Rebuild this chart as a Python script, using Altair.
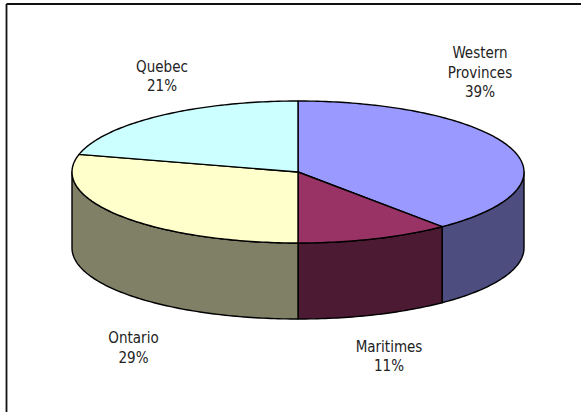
import altair as alt
import numpy as np

# Regional shares, clockwise from twelve o'clock
regions = ["Western Provinces", "Maritimes", "Ontario", "Quebec"]
shares = [39, 11, 29, 21]
label_lines = [["Western", "Provinces"], ["Maritimes"], ["Ontario"], ["Quebec"]]
top_colors = ["#9999FF", "#993366", "#FFFFCC", "#CCFFFF"]
wall_colors = ["#4D4D80", "#4D1A33", "#808066", "#668080"]

# Pie drawing geometry, in pixels
RX, RY, DEPTH = 226, 71, 76
CENTER = [298, 172]
label_anchor = [(480, 53), (389, 346.5), (133.5, 338), (162, 66.5)]


def rim(start, end, drop=0.0):
    """Points along the elliptical rim between two angles (radians clockwise from top)."""
    count = max(2, int(np.degrees(end - start)) + 2)
    return [
        [float(RX * np.sin(t)), float(-RY * np.cos(t) + drop)]
        for t in np.linspace(start, end, count)
    ]


def feature(ring, key):
    return {
        "type": "Feature",
        "properties": {"key": key},
        "geometry": {"type": "Polygon", "coordinates": [ring + [ring[0]]]},
    }


edges = np.cumsum([0] + shares) / sum(shares) * 2 * np.pi
walls, tops = [], []
for i, region in enumerate(regions):
    a, b = edges[i], edges[i + 1]
    tops.append(feature([[0.0, 0.0]] + rim(a, b), f"top {region}"))
    # Only the part of the rim on the near side of the disc shows a wall
    lo, hi = max(a, np.pi / 2), min(b, 3 * np.pi / 2)
    if hi > lo:
        walls.append(feature(rim(lo, hi) + rim(lo, hi, DEPTH)[::-1], f"wall {region}"))

color_scale = alt.Scale(
    domain=[f"top {r}" for r in regions] + [f"wall {r}" for r in regions],
    range=top_colors + wall_colors,
)


def disc_layer(features):
    return (
        alt.Chart(alt.Data(values=features))
        .mark_geoshape(stroke="#000000", strokeWidth=1.4, strokeJoin="round")
        .encode(fill=alt.Fill("properties.key:N", scale=color_scale, legend=None))
        .project(type="identity", scale=1, translate=CENTER)
    )


def label_layer(i):
    text = "\n".join(label_lines[i] + [f"{shares[i]}%"])
    x, y = label_anchor[i]
    return (
        alt.Chart(alt.Data(values=[{"label": text}]))
        .mark_text(
            font="DejaVu Sans Condensed",
            fontSize=15,
            color="#222222",
            align="center",
            baseline="middle",
            lineBreak="\n",
            lineHeight=19.5,
        )
        .encode(text="label:N", x=alt.value(x), y=alt.value(y))
    )


# Chart-area border: only the left and top edges fall inside the page
border_left = alt.Chart(alt.Data(values=[{}])).mark_rule(color="#111111", strokeWidth=1.8).encode(
    x=alt.value(6.5), y=alt.value(4), y2=alt.value(412)
)
border_top = alt.Chart(alt.Data(values=[{}])).mark_rule(color="#111111", strokeWidth=1.8).encode(
    x=alt.value(6.5), x2=alt.value(581), y=alt.value(4)
)

chart = (
    alt.layer(
        border_left,
        border_top,
        disc_layer(walls),
        disc_layer(tops),
        *[label_layer(i) for i in range(len(regions))],
    )
    .properties(width=581, height=412, padding=0, autosize="none", background="#FFFFFF")
    .configure_view(stroke=None)
)

chart.save("out.html", embed_options={"renderer": "svg", "actions": False})
